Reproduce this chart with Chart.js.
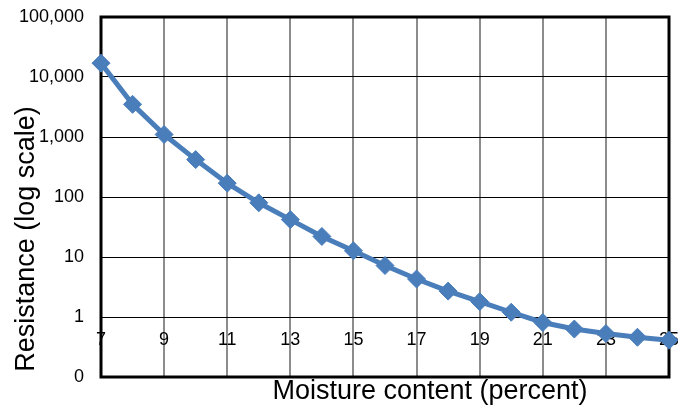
<!DOCTYPE html>
<html>
<head>
<meta charset="utf-8">
<script src="https://cdn.jsdelivr.net/npm/chart.js@4/dist/chart.umd.min.js"></script>
<style>
  html, body { margin: 0; padding: 0; background: #fff; }
  #wrap { width: 678px; height: 407px; }
</style>
</head>
<body>
<div id="wrap"><canvas id="myChart" width="678" height="407"></canvas></div>
<script>
var moisture = [7, 8, 9, 10, 11, 12, 13, 14, 15, 16, 17, 18, 19, 20, 21, 22, 23, 24, 25];
var resistance = [17000, 3500, 1100, 420, 170, 80, 42, 22, 12.7, 7.2, 4.3, 2.7, 1.8, 1.2, 0.81, 0.63, 0.53, 0.46, 0.41];
var yTicks = [0.1, 1, 10, 100, 1000, 10000, 100000];
var yTickLabels = ['0', '1', '10', '100', '1,000', '10,000', '100,000'];
var xTitle = 'Moisture content (percent)';
var yTitle = 'Resistance (log scale)';

var font = "Arial, 'Liberation Sans', sans-serif";
var blue = '#4a7ebb';

// frame and axis titles
var framePlugin = {
  id: 'frame',
  beforeDatasetsDraw: function(chart) {
    var a = chart.chartArea, c = chart.ctx;
    c.save();
    c.strokeStyle = '#000';
    c.lineWidth = 3;
    c.strokeRect(a.left, a.top, a.right - a.left, a.bottom - a.top);
    c.restore();
  },
  afterDraw: function(chart) {
    var c = chart.ctx;
    c.save();
    c.fillStyle = '#000';
    c.font = '27px ' + font;
    c.textAlign = 'center';
    c.textBaseline = 'middle';
    c.fillText(xTitle, 430, 392);
    c.translate(27, 239);
    c.rotate(-Math.PI / 2);
    c.fillText(yTitle, 0, 0);
    c.restore();
  }
};

var ctx = document.getElementById('myChart').getContext('2d');
var myChart = new Chart(ctx, {
  type: 'line',
  data: {
    datasets: [{
      label: 'Resistance',
      data: moisture.map(function(m, i) { return {x: m, y: resistance[i]}; }),
      borderColor: blue,
      backgroundColor: blue,
      borderWidth: 5,
      pointStyle: 'rectRot',
      pointRadius: 9,
      pointBorderWidth: 1,
      pointBackgroundColor: blue,
      pointBorderColor: blue,
      tension: 0,
      clip: false
    }]
  },
  options: {
    responsive: false,
    animation: false,
    layout: { autoPadding: false, padding: { left: 0, top: 17, right: 9, bottom: 30 } },
    plugins: { legend: { display: false }, tooltip: { enabled: false } },
    scales: {
      x: {
        type: 'linear',
        position: { y: 1 },
        min: 7,
        max: 25,
        afterFit: function(scale) { scale.paddingLeft = 0; scale.paddingRight = 0; },
        ticks: {
          stepSize: 2,
          padding: 12,
          color: '#000',
          font: { family: font, size: 18 },
          maxRotation: 0
        },
        grid: { color: '#8c8c8c', lineWidth: 2, drawTicks: false },
        border: { display: false }
      },
      y: {
        type: 'logarithmic',
        min: 0.1,
        max: 100000,
        afterBuildTicks: function(scale) {
          scale.ticks = yTicks.map(function(v) { return {value: v}; });
        },
        afterFit: function(scale) {
          scale.width = 101;
          scale.paddingTop = 0;
          scale.paddingBottom = 0;
        },
        ticks: {
          padding: 17,
          color: '#000',
          font: { family: font, size: 18 },
          callback: function(v) {
            var i = yTicks.indexOf(v);
            return i >= 0 ? yTickLabels[i] : '';
          }
        },
        grid: { color: '#000', lineWidth: 1, drawTicks: false },
        border: { display: false }
      }
    }
  },
  plugins: [framePlugin]
});
</script>
</body>
</html>
